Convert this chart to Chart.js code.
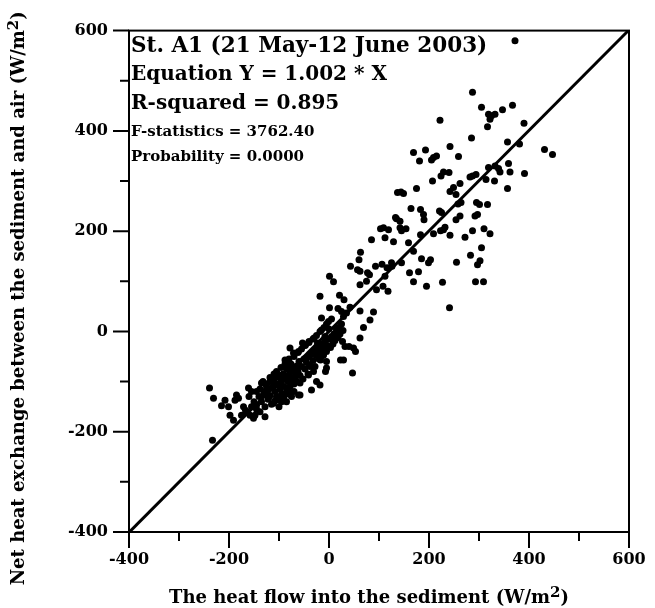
<!DOCTYPE html>
<html>
<head>
<meta charset="utf-8">
<script src="https://cdn.jsdelivr.net/npm/chart.js@4.4.1/dist/chart.umd.min.js"></script>
<style>
  html, body { margin: 0; padding: 0; background: #fff; }
  #wrap { width: 655px; height: 608px; }
</style>
</head>
<body>
<div id="wrap"><canvas id="heatChart"></canvas></div>
<script>
// heat flow into the sediment (x) and net heat exchange sediment-air (y), W/m2
const heatFlow = [
  372, 287, 305, 319, 325, 332, 322, 347, 367, 222, 317, 390, 285, 357, 381, 431, 447,
  169, 193, 181, 209, 205, 215, 242, 259, 207, 224, 229, 240, 262, 249, 242, 254,
  282, 287, 294, 319, 332, 342, 339, 359, 362, 391, 331, 314, 357, 175, 144, 149,
  164, 183, 189, 190, 221, 225, 254, 262, 295, 301, 317, 292, 297, 135, 142, 258, 264,
  109, 119, 142, 154, 145, 112, 129, 159, 183, 209, 223, 232, 229, 242, 272, 287, 310, 322,
  305, 169, 185, 203, 199, 255, 283, 302, 297, 161, 179, 169, 195, 227, 293, 309, 241,
  106, 112, 108, 118, 125, 145, 137, 133, 103, 85, 63, 60, 43, 57, 93, 116, 126, 77, 62, 81,
  1, 9, 62, 75, 95, -18, 21, 30, 42, 62, 1, 18, 35, 29, 25, 89, 82, -15, -1, 69,
  -15, 15, -8, 9, 62, 27, 32, 49, 40, 53, 23, 47, -7, 29,
  -78, -71, -61, -18, -11, -5, -5, -45, -38, -41, -88, -78, -105, -98, -118, -108,
  -65, -58, -58, -35, -81, -91, -135, -125, -145, -131, -161, -155, -121, -111, -98,
  -145, -138, -148, -185, -188, -181, -208, -215, -201, -239, -231, -171, -165, -175,
  -198, -191, -158, -151, -233, -31, -25, -18, -61, -53, -47, -40, -30, -23, -20, -17, -128, -167,
  -130, -125, -120, -118, -112, -110, -108, -105, -102, -100, -98, -95, -95, -92, -90, -88,
  -85, -85, -82, -80, -78, -76, -75, -72, -70, -68, -66, -64, -62, -60, -58, -55, -52, -50,
  -48, -45, -42, -40, -38, -35, -32, -30, -28, -25, -22, -20, -18, -15, -12, -10, -8, -5,
  -3, 0, 3, 5, 8, 10, 12, 15, 18, 20, 22, 25, 28,
  -140, -135, -128, -122, -115, -108, -100, -95, -90, -85, -80, -75, -70, -150, -160, -145,
  -155, -138, -132, -118, -105, -96, -88, -80, -70, -62, -55, -48, -40, -32, -25, -18, -10,
  -5, 0, 5, -110
];
const netExchange = [
  580, 477, 447, 433, 430, 433, 423, 442, 451, 421, 408, 415, 386, 378, 374, 363, 353,
  357, 362, 340, 347, 342, 350, 369, 349, 300, 310, 318, 317, 295, 287, 279, 273,
  308, 310, 313, 327, 330, 318, 325, 335, 318, 315, 300, 303, 285, 285, 278, 275,
  245, 243, 233, 223, 240, 237, 223, 230, 257, 253, 253, 230, 233, 225, 220, 254, 257,
  207, 203, 207, 205, 201, 187, 179, 177, 193, 195, 201, 208, 203, 192, 188, 201, 205, 195,
  167, 160, 145, 143, 137, 138, 152, 141, 133, 117, 119, 99, 90, 98, 99, 99, 47,
  134, 110, 90, 80, 137, 137, 277, 227, 205, 183, 158, 143, 130, 123, 130, 127, 130, 117, 120, 113,
  110, 99, 93, 100, 83, 70, 72, 63, 48, 41, 47, 46, 37, 30, 40, 39, 23, 27, 20, 8,
  3, 0, -10, -10, -13, -20, -30, -33, -30, -40, -57, -83, -80, -57,
  -33, -43, -40, -33, -47, -73, -60, -53, -70, -87, -57, -70, -83, -93, -100, -107,
  -87, -103, -127, -117, -120, -133, -103, -110, -120, -127, -113, -120, -133, -143, -137,
  -147, -160, -167, -127, -137, -133, -137, -148, -150, -113, -133, -150, -160, -167,
  -167, -177, -167, -173, -217, -80, -100, -107, -127, -23, -27, -20, -13, -23, -47, -57, -170, -157,
  -120, -105, -115, -128, -110, -95, -120, -130, -105, -90, -115, -100, -125, -85, -110, -95,
  -120, -75, -100, -88, -110, -65, -95, -80, -105, -90, -70, -100, -80, -60, -88, -70, -95, -55,
  -75, -62, -85, -50, -68, -45, -58, -38, -70, -48, -30, -55, -40, -25, -48, -35, -20, -40,
  -28, -15, -32, -10, -25, -5, -18, 5, -12, 8, -5, 15, 2,
  -130, -140, -150, -135, -145, -138, -150, -140, -130, -140, -125, -130, -120, -140, -130, -155,
  -150, -115, -100, -92, -80, -72, -65, -55, -50, -42, -35, -28, -22, -15, -8, 0, 8,
  15, 5, 25, -85
];
const slope = 1.002;
const axisMin = -400;
const axisMax = 600;
const statLines = [
  'St. A1 (21 May-12 June 2003)',
  'Equation Y = 1.002 * X',
  'R-squared = 0.895',
  'F-statistics = 3762.40',
  'Probability = 0.0000'
];
// axis titles split round the raised "2" of m2
const xTitle = ['The heat flow into the sediment (W/m', '2', ')'];
const yTitle = ['Net heat exchange between the sediment and air (W/m', '2', ')'];

const serif = "'DejaVu Serif', 'Liberation Serif', serif";
const points = heatFlow.map((x, i) => ({ x: x, y: netExchange[i] }));
const fitLine = [axisMin, axisMax].map(x => ({ x: x, y: slope * x }));

function drawTitle(ctx, parts, cx, baseY, size, rotate) {
  const mainFont = 'bold ' + size + 'px ' + serif;
  const supFont = 'bold ' + Math.round(size * 0.85) + 'px ' + serif;
  ctx.save();
  ctx.translate(cx, baseY);
  if (rotate) ctx.rotate(-Math.PI / 2);
  ctx.textAlign = 'left';
  ctx.textBaseline = 'alphabetic';
  ctx.font = mainFont;
  const w1 = ctx.measureText(parts[0]).width;
  const w3 = ctx.measureText(parts[2]).width;
  ctx.font = supFont;
  const w2 = ctx.measureText(parts[1]).width;
  let x = -(w1 + w2 + w3) / 2;
  ctx.font = mainFont;
  ctx.fillText(parts[0], x, 0);
  x += w1;
  ctx.font = supFont;
  ctx.fillText(parts[1], x, -size * 0.35);
  x += w2;
  ctx.font = mainFont;
  ctx.fillText(parts[2], x, 0);
  ctx.restore();
}

// box round the plot, outside ticks (long at 200s, short at 100s), titles and the stats text
const frameAndText = {
  id: 'frameAndText',
  afterDraw(chart) {
    const { ctx, chartArea: a, scales } = chart;
    ctx.save();
    ctx.strokeStyle = '#000';
    ctx.lineWidth = 2;
    ctx.strokeRect(a.left, a.top, a.right - a.left, a.bottom - a.top);
    ctx.beginPath();
    for (let v = axisMin; v <= axisMax; v += 100) {
      const len = v % 200 === 0 ? 16 : 9;
      const px = scales.x.getPixelForValue(v);
      const py = scales.y.getPixelForValue(v);
      ctx.moveTo(px, a.bottom);
      ctx.lineTo(px, a.bottom + len);
      ctx.moveTo(a.left, py);
      ctx.lineTo(a.left - len, py);
    }
    ctx.stroke();

    ctx.fillStyle = '#000';
    ctx.textAlign = 'left';
    ctx.textBaseline = 'alphabetic';
    const sizes = [21.5, 20, 20, 15, 15];
    const baselines = [52, 80, 109, 136, 161];
    statLines.forEach((t, i) => {
      ctx.font = 'bold ' + sizes[i] + 'px ' + serif;
      ctx.fillText(t, a.left + 2, baselines[i]);
    });

    drawTitle(ctx, xTitle, (a.left + a.right) / 2 - 10, 603, 18, false);
    drawTitle(ctx, yTitle, 24, (a.top + a.bottom) / 2 + 17, 18, true);
    ctx.restore();
  }
};

const ctx = document.getElementById('heatChart').getContext('2d');
new Chart(ctx, {
  type: 'scatter',
  data: {
    datasets: [
      {
        label: 'Observed',
        data: points,
        backgroundColor: '#000',
        borderColor: '#000',
        borderWidth: 0,
        pointRadius: 3.5,
        pointHoverRadius: 3.5
      },
      {
        label: 'Y = 1.002 * X',
        type: 'line',
        data: fitLine,
        borderColor: '#000',
        borderWidth: 3,
        pointRadius: 0,
        fill: false
      }
    ]
  },
  options: {
    responsive: true,
    maintainAspectRatio: false,
    animation: false,
    layout: { padding: { top: 30, right: 26, left: 0, bottom: 0 } },
    plugins: {
      legend: { display: false },
      tooltip: { enabled: false }
    },
    scales: {
      x: {
        type: 'linear',
        min: axisMin,
        max: axisMax,
        ticks: {
          stepSize: 200,
          color: '#000',
          padding: 18,
          maxRotation: 0,
          font: { family: serif, size: 16, weight: 'bold' }
        },
        grid: { drawOnChartArea: false, drawTicks: false },
        border: { color: '#000', width: 2 },
        afterFit: s => {
          s.height = 76;
          s.paddingLeft = 0;
          s.paddingRight = 0;
        }
      },
      y: {
        type: 'linear',
        min: axisMin,
        max: axisMax,
        ticks: {
          stepSize: 200,
          color: '#000',
          padding: 21,
          font: { family: serif, size: 16, weight: 'bold' }
        },
        grid: { drawOnChartArea: false, drawTicks: false },
        border: { color: '#000', width: 2 },
        afterFit: s => { s.width = 129; }
      }
    }
  },
  plugins: [frameAndText]
});
</script>
</body>
</html>
